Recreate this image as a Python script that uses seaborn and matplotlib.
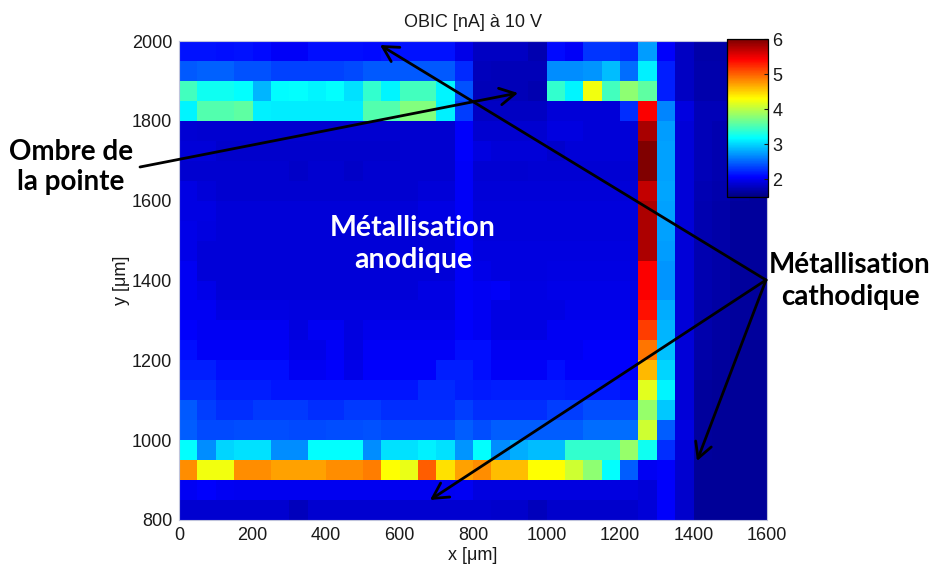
import numpy as np
import pandas as pd
import matplotlib
matplotlib.use("Agg")
import matplotlib.pyplot as plt
from matplotlib.colors import LinearSegmentedColormap
import seaborn as sns

# ---- data: OBIC current [nA], 50 um grid, rows from top (y=2000) to bottom (y=800)
x_centers = [25, 75, 125, 175, 225, 275, 325, 375, 425, 475, 525, 575, 625, 675, 725, 775,
             825, 875, 925, 975, 1025, 1075, 1125, 1175, 1225, 1275, 1325, 1375, 1425, 1475, 1525, 1575]
y_centers = [1975, 1925, 1875, 1825, 1775, 1725, 1675, 1625, 1575, 1525, 1475, 1425,
             1375, 1325, 1275, 1225, 1175, 1125, 1075, 1025, 975, 925, 875, 825]

row_1975 = [2.15, 2.15, 2.12, 2.15, 2.10, 2.04, 2.04, 2.12, 2.12, 2.12, 2.10, 2.15, 2.15, 2.15, 2.15, 1.97, 1.80, 1.80, 1.80, 1.72, 2.10, 2.03, 2.30, 2.30, 2.25, 2.75, 2.05, 1.80, 1.68, 1.68, 1.66, 1.66]
row_1925 = [2.45, 2.50, 2.50, 2.42, 2.42, 2.35, 2.35, 2.35, 2.35, 2.38, 2.45, 2.45, 2.45, 2.45, 2.45, 2.25, 1.78, 1.75, 1.75, 1.75, 2.69, 2.69, 2.72, 2.90, 2.55, 3.12, 2.20, 1.80, 1.70, 1.70, 1.68, 1.68]
row_1875 = [3.47, 3.25, 3.25, 3.19, 2.87, 3.17, 3.19, 3.15, 3.19, 3.05, 3.40, 3.15, 3.47, 3.47, 3.15, 2.42, 1.75, 1.75, 1.75, 1.72, 3.40, 3.15, 4.25, 3.47, 3.82, 3.60, 2.20, 1.80, 1.70, 1.70, 1.68, 1.68]
row_1825 = [3.15, 3.55, 3.55, 3.60, 3.12, 3.10, 3.10, 3.10, 3.10, 3.10, 3.55, 3.55, 3.75, 3.75, 3.12, 2.34, 1.80, 1.80, 1.80, 1.80, 1.89, 1.89, 1.89, 1.89, 2.27, 5.44, 2.65, 1.93, 1.75, 1.75, 1.70, 1.70]
row_1775 = [1.88, 1.86, 1.86, 1.86, 1.86, 1.86, 1.86, 1.86, 1.86, 1.86, 1.86, 1.86, 1.86, 1.86, 1.86, 2.06, 1.86, 1.86, 1.86, 1.86, 1.93, 1.93, 1.89, 1.89, 1.89, 5.81, 2.75, 1.89, 1.75, 1.72, 1.68, 1.66]
row_1725 = [1.89, 1.89, 1.84, 1.84, 1.84, 1.84, 1.84, 1.84, 1.84, 1.84, 1.84, 1.84, 1.86, 1.86, 1.86, 2.06, 1.93, 1.89, 1.89, 1.89, 1.84, 1.89, 1.89, 1.89, 1.89, 6.00, 2.77, 1.89, 1.75, 1.72, 1.68, 1.66]
row_1675 = [1.86, 1.86, 1.86, 1.86, 1.86, 1.86, 1.82, 1.86, 1.86, 1.82, 1.86, 1.86, 1.86, 1.86, 1.86, 2.04, 1.88, 1.88, 1.86, 1.88, 1.88, 1.88, 1.88, 1.88, 1.88, 6.00, 2.77, 1.89, 1.75, 1.72, 1.68, 1.66]
row_1625 = [1.95, 1.89, 1.86, 1.86, 1.86, 1.86, 1.86, 1.86, 1.86, 1.86, 1.86, 1.86, 1.86, 1.89, 1.89, 2.04, 1.90, 1.90, 1.90, 1.90, 1.90, 1.90, 1.90, 1.90, 1.90, 5.69, 2.80, 1.90, 1.74, 1.70, 1.66, 1.64]
row_1575 = [1.95, 1.95, 1.89, 1.89, 1.89, 1.89, 1.89, 1.89, 1.89, 1.89, 1.89, 1.89, 1.89, 1.95, 1.95, 2.04, 1.92, 1.92, 1.92, 1.92, 1.92, 1.92, 1.92, 1.92, 1.92, 5.79, 2.77, 1.90, 1.72, 1.68, 1.63, 1.63]
row_1525 = [1.97, 1.93, 1.90, 1.90, 1.90, 1.90, 1.90, 1.90, 1.90, 1.90, 1.90, 1.90, 1.90, 1.90, 1.90, 2.04, 1.92, 1.92, 1.92, 1.92, 1.92, 1.92, 1.92, 1.92, 1.92, 5.79, 2.77, 1.90, 1.72, 1.68, 1.63, 1.63]
row_1475 = [1.97, 1.89, 1.89, 1.89, 1.89, 1.89, 1.89, 1.89, 1.89, 1.89, 1.89, 1.89, 1.89, 1.89, 1.89, 2.04, 1.93, 1.93, 1.93, 1.93, 1.93, 1.93, 1.93, 1.93, 1.93, 5.79, 2.75, 1.90, 1.72, 1.68, 1.63, 1.63]
row_1425 = [2.01, 1.89, 1.89, 1.89, 1.89, 1.89, 1.89, 1.89, 1.89, 1.89, 1.89, 1.89, 1.89, 1.89, 1.89, 2.04, 1.97, 1.93, 1.93, 1.93, 1.95, 1.95, 1.95, 1.95, 1.95, 5.44, 2.72, 1.90, 1.72, 1.68, 1.63, 1.63]
row_1375 = [2.01, 1.97, 1.89, 1.89, 1.89, 1.89, 1.89, 1.89, 1.89, 1.89, 1.89, 1.89, 1.89, 1.95, 1.95, 2.04, 2.01, 2.04, 1.95, 1.95, 1.97, 1.97, 1.97, 1.97, 1.97, 5.44, 2.72, 1.90, 1.72, 1.68, 1.63, 1.63]
row_1325 = [2.01, 2.01, 1.95, 1.95, 1.95, 1.95, 1.93, 1.93, 1.93, 1.93, 1.93, 1.93, 1.93, 1.93, 1.93, 2.05, 2.01, 1.95, 1.95, 1.95, 1.95, 1.99, 1.99, 1.99, 1.99, 5.35, 2.82, 1.90, 1.70, 1.66, 1.63, 1.63]
row_1275 = [2.06, 2.01, 2.01, 2.01, 2.01, 2.01, 1.93, 2.01, 2.01, 1.93, 1.99, 1.99, 1.99, 1.99, 1.99, 2.06, 2.01, 1.95, 1.95, 1.95, 2.01, 2.01, 2.01, 2.01, 2.01, 5.16, 2.86, 1.90, 1.70, 1.66, 1.63, 1.63]
row_1225 = [2.13, 2.03, 2.03, 2.03, 2.03, 2.03, 1.97, 1.97, 2.03, 1.95, 2.03, 2.03, 2.03, 2.03, 2.03, 2.13, 2.13, 2.01, 2.01, 2.01, 2.01, 2.01, 2.06, 2.06, 2.06, 4.92, 2.92, 1.90, 1.68, 1.65, 1.62, 1.62]
row_1175 = [2.20, 2.20, 2.13, 2.13, 2.13, 2.13, 2.01, 2.01, 2.06, 1.97, 2.06, 2.06, 2.06, 2.06, 2.20, 2.20, 2.13, 2.03, 2.03, 2.03, 2.13, 2.06, 2.06, 2.06, 2.06, 4.62, 3.00, 1.90, 1.66, 1.64, 1.62, 1.62]
row_1125 = [2.27, 2.27, 2.20, 2.20, 2.20, 2.16, 2.16, 2.16, 2.16, 2.16, 2.16, 2.16, 2.16, 2.24, 2.24, 2.20, 2.17, 2.20, 2.20, 2.20, 2.20, 2.17, 2.17, 2.17, 2.13, 4.18, 3.15, 1.89, 1.63, 1.62, 1.62, 1.62]
row_1075 = [2.45, 2.34, 2.27, 2.27, 2.31, 2.31, 2.31, 2.27, 2.27, 2.31, 2.31, 2.27, 2.27, 2.27, 2.27, 2.34, 2.27, 2.27, 2.27, 2.27, 2.34, 2.34, 2.41, 2.41, 2.41, 3.85, 2.95, 1.89, 1.63, 1.62, 1.62, 1.62]
row_1025 = [2.48, 2.38, 2.38, 2.41, 2.41, 2.41, 2.38, 2.38, 2.41, 2.41, 2.43, 2.38, 2.38, 2.38, 2.38, 2.48, 2.41, 2.48, 2.48, 2.48, 2.48, 2.48, 2.55, 2.55, 2.55, 4.10, 2.48, 1.93, 1.63, 1.62, 1.62, 1.62]
row_975 = [3.19, 2.69, 3.00, 3.05, 3.05, 2.69, 2.69, 3.19, 3.19, 3.19, 2.69, 3.05, 3.05, 3.12, 3.05, 2.72, 3.19, 2.69, 2.82, 2.90, 2.90, 3.40, 3.40, 3.40, 3.85, 3.25, 2.27, 1.89, 1.63, 1.62, 1.62, 1.62]
row_925 = [4.81, 4.25, 4.25, 4.81, 4.81, 4.73, 4.73, 4.73, 4.81, 4.81, 4.88, 4.31, 4.22, 5.02, 4.45, 4.73, 4.81, 4.60, 4.60, 4.31, 4.31, 4.10, 3.82, 3.19, 2.48, 2.01, 2.06, 1.86, 1.62, 1.62, 1.62, 1.62]
row_875 = [2.01, 2.06, 2.01, 2.00, 2.00, 2.00, 2.00, 2.00, 2.00, 2.00, 2.00, 2.00, 2.00, 2.00, 2.00, 2.01, 1.93, 1.93, 1.93, 1.93, 1.93, 1.93, 1.93, 1.93, 1.93, 1.89, 2.06, 1.84, 1.62, 1.62, 1.62, 1.62]
row_825 = [1.86, 1.86, 1.86, 1.86, 1.86, 1.86, 1.78, 1.86, 1.86, 1.86, 1.86, 1.86, 1.86, 1.86, 1.86, 1.86, 1.86, 1.84, 1.84, 1.78, 1.84, 1.84, 1.84, 1.84, 1.84, 1.89, 2.06, 1.84, 1.62, 1.62, 1.62, 1.62]

x_ticks = [0, 200, 400, 600, 800, 1000, 1200, 1400, 1600]
y_ticks = [2000, 1800, 1600, 1400, 1200, 1000, 800]
cbar_ticks = [2, 3, 4, 5, 6]
c_min, c_max = 1.5, 6.0

title = "OBIC [nA] à 10 V"
xlabel = "x [μm]"
ylabel = "y [μm]"

rows = [row_1975, row_1925, row_1875, row_1825, row_1775, row_1725, row_1675, row_1625,
        row_1575, row_1525, row_1475, row_1425, row_1375, row_1325, row_1275, row_1225,
        row_1175, row_1125, row_1075, row_1025, row_975, row_925, row_875, row_825]
df = pd.DataFrame(rows, index=y_centers, columns=x_centers)

# MATLAB-style jet colormap
matlab_jet = LinearSegmentedColormap("matlab_jet", {
    "red":   [(0.0, 0.0, 0.0), (0.375, 0.0, 0.0), (0.625, 1.0, 1.0), (0.875, 1.0, 1.0), (1.0, 0.5, 0.5)],
    "green": [(0.0, 0.0, 0.0), (0.125, 0.0, 0.0), (0.375, 1.0, 1.0), (0.625, 1.0, 1.0), (0.875, 0.0, 0.0), (1.0, 0.0, 0.0)],
    "blue":  [(0.0, 0.5, 0.5), (0.125, 1.0, 1.0), (0.375, 1.0, 1.0), (0.625, 0.0, 0.0), (1.0, 0.0, 0.0)],
}, N=256)

# ---- figure
W, H = 936, 564
fig = plt.figure(figsize=(W / 100, H / 100), dpi=100)
plt.rcParams['font.family'] = ['Liberation Sans', 'DejaVu Sans']

def fx(px):
    return px / W

def fy(py):
    return 1 - py / H

ax = fig.add_axes([fx(179), fy(520), (767 - 179) / W, (520 - 41) / H])
cax = fig.add_axes([fx(727), fy(197), (768 - 727) / W, (197 - 39.5) / H])

sns.heatmap(df, ax=ax, cbar_ax=cax, cmap=matlab_jet, vmin=c_min, vmax=c_max,
            cbar_kws={"ticks": cbar_ticks}, xticklabels=False, yticklabels=False)

# ticks in data units -> cell positions
dx = x_centers[1] - x_centers[0]
x0 = x_centers[0] - dx / 2
dy = y_centers[0] - y_centers[1]
ytop = y_centers[0] + dy / 2
ax.set_xticks([(v - x0) / dx for v in x_ticks])
ax.set_xticklabels([str(v) for v in x_ticks], rotation=0, fontsize=13, color="#1a1a1a")
ax.set_yticks([(ytop - v) / dy for v in y_ticks])
ax.set_yticklabels([str(v) for v in y_ticks], rotation=0, fontsize=13, color="#1a1a1a")
ax.tick_params(length=0, pad=5)
ax.set_xlabel(xlabel, fontsize=13, labelpad=2, color="#1a1a1a")
ax.set_ylabel(ylabel, fontsize=13, labelpad=1, color="#1a1a1a")
ax.set_title(title, fontsize=13, pad=10, color="#1a1a1a")
for s in ax.spines.values():
    s.set_visible(True)
    s.set_color("#c0c4dc")
    s.set_linewidth(0.8)

cbar = ax.collections[0].colorbar
cbar.outline.set_edgecolor("black")
cbar.outline.set_linewidth(0.9)
cax.tick_params(direction="in", length=3, labelsize=13, right=True, left=False,
                colors="#1a1a1a", pad=3)

# ---- annotations
afont = ["Lato", "DejaVu Sans"]
fig.text(fx(71), fy(167), "Ombre de\nla pointe", ha="center", va="center",
         fontsize=20, fontweight="bold", family=afont, linespacing=1.2, color="black")
fig.text(fx(413), fy(244), "Métallisation\nanodique", ha="center", va="center",
         fontsize=20.5, fontweight="bold", family=afont, linespacing=1.25, color="white")
fig.text(fx(850), fy(281), "Métallisation\ncathodique", ha="center", va="center",
         fontsize=20, fontweight="bold", family=afont, linespacing=1.25, color="black")

arrow_kw = dict(arrowstyle="->,head_length=0.55,head_width=0.3", lw=2.0, color="black",
                mutation_scale=20, shrinkA=0, shrinkB=0)
arrows = [((140, 167), (518, 93)),
          ((766, 280), (380, 45)),
          ((766, 280), (430, 500)),
          ((766, 280), (697, 461))]
for (sx, sy), (tx, ty) in arrows:
    ax.annotate("", xy=(fx(tx), fy(ty)), xytext=(fx(sx), fy(sy)),
                xycoords="figure fraction", textcoords="figure fraction",
                arrowprops=arrow_kw, annotation_clip=False)

fig.savefig("out.png", dpi=100)
